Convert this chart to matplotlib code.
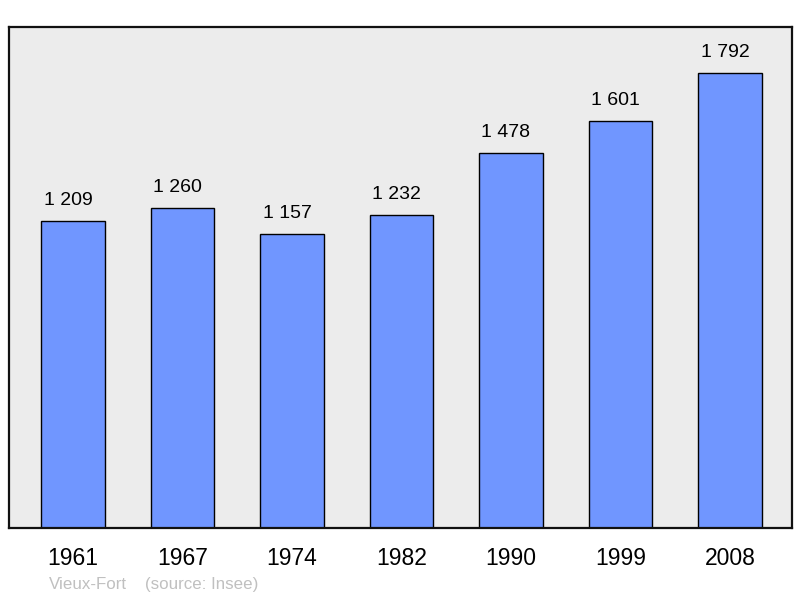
import matplotlib
matplotlib.use("Agg")
import matplotlib.pyplot as plt
import numpy as np

years = ['1961', '1967', '1974', '1982', '1990', '1999', '2008']
population = [1209, 1260, 1157, 1232, 1478, 1601, 1792]
labels = ['1 209', '1 260', '1 157', '1 232', '1 478', '1 601', '1 792']

plt.rcParams['font.family'] = ['Liberation Sans', 'DejaVu Sans']

fig = plt.figure(figsize=(8, 5.98), dpi=100)
ax = fig.add_axes([0.01125, 0.1171, 0.97875, 0.8378])
ax.set_facecolor('#ececec')

x = np.arange(len(years))
ax.bar(x, population, width=0.58, color='#7096ff', edgecolor='black', linewidth=1.0, zorder=2)

# value labels sit a little left of the bar centre in the original
for xi, v, lab in zip(x, population, labels):
    ax.annotate(lab, (xi, v), xytext=(-3.6, 11.5), textcoords='offset points',
                ha='center', va='baseline', fontsize=14, color='black')

ax.set_xlim(-0.584, len(years) - 1 + 0.566)
ax.set_ylim(0, 1973)
ax.set_xticks(x)
ax.set_xticklabels(years, fontsize=16.5)
ax.tick_params(axis='x', length=0, pad=14)
ax.set_yticks([])
for s in ax.spines.values():
    s.set_linewidth(1.6)
    s.set_color('#111111')

fig.text(49 / 800, 1 - 589 / 598, 'Vieux-Fort', fontsize=12.2, color='#c0c0c0', va='baseline')
fig.text(145 / 800, 1 - 589 / 598, '(source: Insee)', fontsize=12.2, color='#c0c0c0', va='baseline')

fig.savefig('out.png', dpi=100)
